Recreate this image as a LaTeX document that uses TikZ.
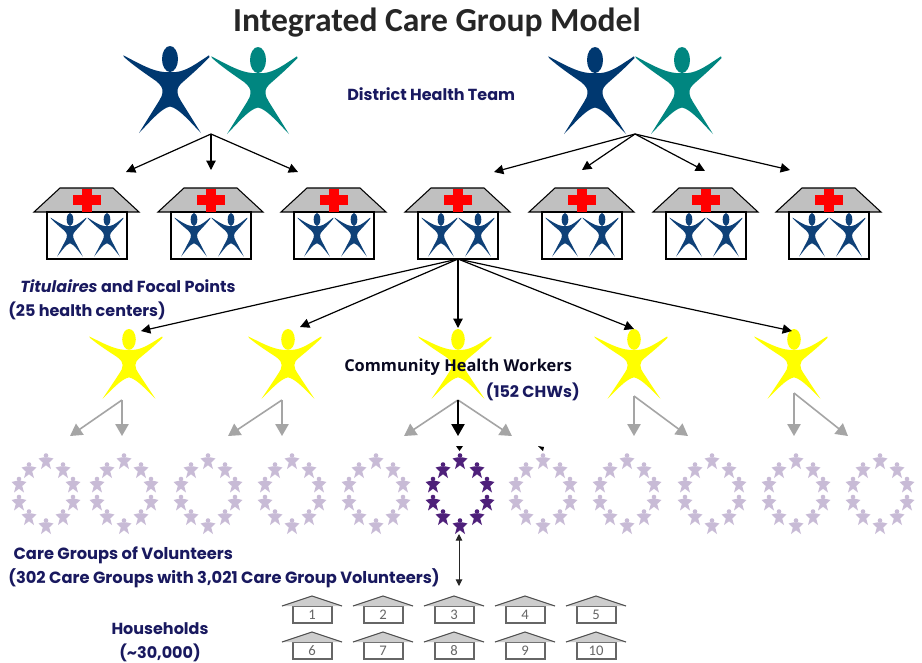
\documentclass[tikz,border=0pt]{standalone}
\usepackage{fontspec}
\setmainfont{Open Sans}
\newfontfamily\titlefont{Carlito}
\newfontfamily\geofont{Poppins}
\usetikzlibrary{arrows.meta}
\definecolor{navy}{RGB}{0,56,112}
\definecolor{tealp}{RGB}{0,134,128}
\definecolor{smallblue}{RGB}{15,65,120}
\definecolor{labelc}{RGB}{25,25,95}
\definecolor{roofg}{RGB}{192,192,192}
\definecolor{lightstar}{RGB}{200,187,214}
\definecolor{darkstar}{RGB}{78,32,122}
\definecolor{graya}{RGB}{165,165,165}
\definecolor{pureyellow}{RGB}{255,255,0}
\tikzset{
 x=0.75pt,y=-0.75pt,
 lab/.style={font=\geofont\bfseries\fontsize{12}{18}\selectfont,text=labelc,inner sep=0pt,align=left},
 blk/.style={draw=black,line width=0.9pt,-{Triangle[length=7pt,width=7pt]}},
 gry/.style={draw=graya,line width=1.2pt,-{Triangle[length=9pt,width=10pt,fill=graya]}},
 person/.pic={
  \fill[pic actions] (0,13) ellipse (8 and 13);
  \fill[pic actions] (-6,26) .. controls (-18,25) and (-30,18) .. (-46.7,9.3) -- (-46,11)
    .. controls (-36,20) and (-24,28) .. (-14,35) .. controls (-9,39) and (-7.5,42) .. (-7.5,45)
    .. controls (-7.5,49) and (-9,52) .. (-11,55)
    -- (-31,87) .. controls (-22,78) and (-9,62) .. (0,60.5)
    .. controls (9,62) and (22,78) .. (31,87) -- (11,55)
    .. controls (9,52) and (7.5,49) .. (7.5,45) .. controls (7.5,42) and (9,39) .. (14,35)
    .. controls (22,28) and (31,20) .. (39.5,11) -- (39,9.3)
    .. controls (27,17) and (17,25) .. (6,26) -- cycle;
 },
 clinic/.pic={
  \draw[black,line width=0.8pt,fill=roofg] (-53,24) -- (-27,0) -- (26,0) -- (52,24) -- cycle;
  \draw[black,line width=0.9pt,fill=white] (-40,24) rectangle (40,71);
  \fill[red] (-5,1) rectangle (4.5,24);
  \fill[red] (-14,7) rectangle (14,17);
  \path (-17,25) pic[xscale=.415,yscale=.5,fill=smallblue] {person};
  \path (20,25) pic[xscale=.415,yscale=.5,fill=smallblue] {person};
 },
 hut/.pic={
  \draw[black!60,line width=1pt,fill=white] (-19,10) rectangle (20,27);
  \fill[roofg!80] (-30,10) -- (0,0) -- (30,10) -- cycle;
  \draw[black!70,line width=0.8pt] (-30,10) -- (0,0) -- (30,10);
 },
 ministar/.pic={
  \fill[pic actions] (0,-6) circle (2.3);
  \fill[pic actions] (-7.5,-3) -- (-2.4,-4.2) -- (2.4,-4.2) -- (7.5,-3) -- (3.2,1) -- (5,7.5) -- (0,3.8) -- (-5,7.5) -- (-3.2,1) -- cycle;
 },
 hnum/.style={font=\titlefont\fontsize{11}{12}\selectfont,text=black!60,inner sep=0pt},
}
\begin{document}
\begin{tikzpicture}
\useasboundingbox[fill=white] (0,0) rectangle (922,662);
\node[font=\titlefont\bfseries\fontsize{25.2}{28}\selectfont,text=black!85,inner sep=0pt] (title) at (437,23) {Integrated Care Group Model};
% leaders
\path (170,46) pic[fill=navy] {person};
\path (258,47) pic[fill=tealp] {person};
\path (595,47) pic[fill=navy] {person};
\path (682,47) pic[fill=tealp] {person};
\node[lab,anchor=west] (dht) at (347,94) {District Health Team};
% clinics
\foreach \n/\x in {1/87,2/211,3/334,4/458,5/582,6/706,7/829}{
  \path (\x,188) pic {clinic};
  \coordinate (c\n) at (\x,188);
}
% arrows from leaders
\coordinate (la) at (211,134);
\coordinate (ra) at (635,134);
\coordinate (a1) at (126,172); \coordinate (a2) at (211,170); \coordinate (a3) at (298,172);
\coordinate (b1) at (494,172); \coordinate (b2) at (582,170); \coordinate (b3) at (705,171); \coordinate (b4) at (790,170);
\foreach \t in {a1,a2,a3}{\draw[blk] (la) -- (\t);}
\foreach \t in {b1,b2,b3,b4}{\draw[blk] (ra) -- (\t);}
% labels
\node[lab,anchor=west] (tit) at (8,300) {\hspace*{9pt}\textit{Titulaires} and Focal Points\\(25 health centers)};
% yellow
\foreach \x in {129,288,458,634,794}{
  \path (\x,329) pic[xscale=.85,yscale=.8,fill=pureyellow] {person};
}
\coordinate (hub) at (458,259);
\coordinate (y1) at (141,331); \coordinate (y2) at (300,327); \coordinate (y3) at (458,328); \coordinate (y4) at (634,329); \coordinate (y5) at (792,331);
\foreach \t in {y1,y2,y3,y4,y5}{\draw[blk] (hub) -- (\t);}
\node[font=\bfseries\fontsize{12.3}{15}\selectfont,text=black!65!labelc,inner sep=0pt,anchor=west] (chw) at (344,367) {Community Health Workers};
\node[lab,anchor=east] (chwn) at (580,391.5) {(152 CHWs)};
% lower arrows
\foreach \ax/\ay/\l/\r in {122/400/70/122,282/400/228/282,634/396/634/688,794/393/794/848}{
  \coordinate (s) at (\ax,\ay);
  \coordinate (tl) at (\l,436); \coordinate (tr) at (\r,436);
  \draw[gry] (s) -- (tl);
  \draw[gry] (s) -- (tr);
}
\coordinate (s3) at (458,400);
\coordinate (t31) at (404,436); \coordinate (t32) at (512,436); \coordinate (t33) at (458,436);
\draw[gry] (s3) -- (t31);
\draw[gry] (s3) -- (t32);
\draw[draw=black,line width=0.9pt,-{Triangle[length=9pt,width=10pt]}] (s3) -- (t33);
\fill[black] (456,446) -- (463,446) -- (459.5,451) -- cycle;
\fill[black] (538,446) -- (544,447) -- (543,451) -- cycle;
% rings
\foreach \cx/\col in {46/lightstar,124/lightstar,208/lightstar,292/lightstar,376/lightstar,460/darkstar,543/lightstar,627/lightstar,712/lightstar,796/lightstar,880/lightstar}{
  \foreach \dx/\dy in {27/9,27/-9,-27/9,-27/-9,17/23.5,17/-23.5,-17/23.5,-17/-23.5,0/32.5,0/-32.5}{
    \path (\cx+\dx,494+\dy) pic[fill=\col] {ministar};
  }
}
\node[lab,font=\geofont\bfseries\fontsize{12.2}{18}\selectfont,anchor=west] (cg) at (8,567.5) {\hspace*{4pt}Care Groups of Volunteers\\(302 Care Groups with 3,021 Care Group Volunteers)};
\coordinate (d1) at (459,534); \coordinate (d2) at (459,586);
\draw[black!85,line width=0.7pt,{Triangle[length=5pt,width=5pt]}-{Triangle[length=5pt,width=5pt]}] (d1) -- (d2);
% huts
\foreach \n/\x in {1/312,2/383,3/454,4/525,5/596}{
  \path (\x,596) pic {hut};
  \node[hnum] (h\n) at (\x,615) {\n};
}
\foreach \n/\x in {6/312,7/383,8/454,9/525,10/596}{
  \path (\x,632) pic {hut};
  \node[hnum] (h\n) at (\x,651) {\n};
}
\node[lab,align=center] (hh) at (160,642) {Households\\(\textasciitilde30,000)};
\end{tikzpicture}
\end{document}
